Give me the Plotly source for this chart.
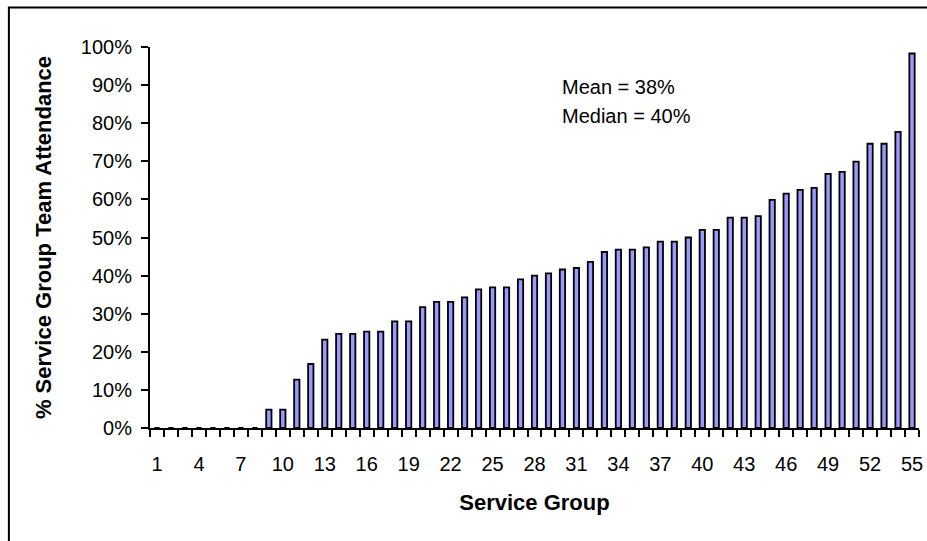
import numpy as np
import plotly.graph_objects as go

# Service group numbers and the share of each group's team that attended
groups = list(range(1, 56))
attendance = [
    0, 0, 0, 0, 0, 0, 0, 0,
    4.8, 4.8, 12.7, 16.8, 23.2, 24.7, 24.7, 25.3, 25.3, 28.0, 28.0,
    31.7, 33.1, 33.1, 34.3, 36.4, 36.9, 36.9, 39.0, 40.0, 40.6, 41.6,
    42.0, 43.6, 46.2, 46.8, 46.8, 47.4, 48.9, 48.9, 50.0, 52.0, 52.0,
    55.2, 55.2, 55.6, 59.9, 61.5, 62.5, 63.0, 66.7, 67.2, 69.9, 74.6,
    74.6, 77.7, 98.3,
]
share = [v / 100 for v in attendance]
x_tick_labels = list(range(1, 56, 3))
y_tick_values = [i / 10 for i in range(11)]

mean_val = np.mean(share)
median_val = np.median(share)

FONT = "Arial, Liberation Sans, sans-serif"
TICK_SIZE = 20
TITLE_SIZE = 22

fig = go.Figure(
    go.Bar(
        x=groups,
        y=share,
        width=0.38,
        marker=dict(color="#9999FF", line=dict(color="black", width=1.8)),
    )
)

fig.update_layout(
    width=927,
    height=541,
    margin=dict(l=150, r=4, t=47, b=113),
    paper_bgcolor="white",
    plot_bgcolor="white",
    showlegend=False,
    font=dict(family=FONT, color="black", size=TICK_SIZE),
)

fig.update_xaxes(
    range=[0.5, 55.5],
    tickmode="array",
    tickvals=x_tick_labels,
    ticktext=[str(v) for v in x_tick_labels],
    ticks="",
    ticklabelstandoff=17,
    ticklabeloverflow="allow",
    showgrid=False,
    zeroline=False,
    showline=True,
    linecolor="black",
    linewidth=2,
    minor=dict(tickmode="linear", tick0=0.5, dtick=1, ticks="outside",
               ticklen=7, tickwidth=2, tickcolor="black", showgrid=False),
    tickfont=dict(size=TICK_SIZE),
    title=dict(text="<b>Service Group</b>", font=dict(size=TITLE_SIZE), standoff=21),
)

fig.update_yaxes(
    range=[0, 1],
    tickvals=y_tick_values,
    tickformat=".0%",
    ticks="outside",
    ticklen=7,
    tickwidth=2,
    tickcolor="black",
    ticklabelstandoff=5,
    showgrid=False,
    zeroline=False,
    showline=True,
    linecolor="black",
    linewidth=2,
    tickfont=dict(size=TICK_SIZE),
    title=dict(text="<b>% Service Group Team Attendance</b>",
               font=dict(size=TITLE_SIZE), standoff=23),
)

# Summary statistics
fig.add_annotation(x=29.85, y=0.894, xref="x", yref="paper", xanchor="left",
                   yanchor="middle", showarrow=False,
                   text=f"Mean = {mean_val:.0%}", font=dict(size=TICK_SIZE))
fig.add_annotation(x=29.85, y=0.818, xref="x", yref="paper", xanchor="left",
                   yanchor="middle", showarrow=False,
                   text=f"Median = {median_val:.0%}", font=dict(size=TICK_SIZE))

# Outer chart frame
fig.add_shape(type="rect", xref="paper", yref="paper",
              x0=-0.1835, y0=-0.5, x1=1.2, y1=1.1037,
              line=dict(color="black", width=2), fillcolor="rgba(0,0,0,0)",
              layer="below")

fig.write_html("out.html")
